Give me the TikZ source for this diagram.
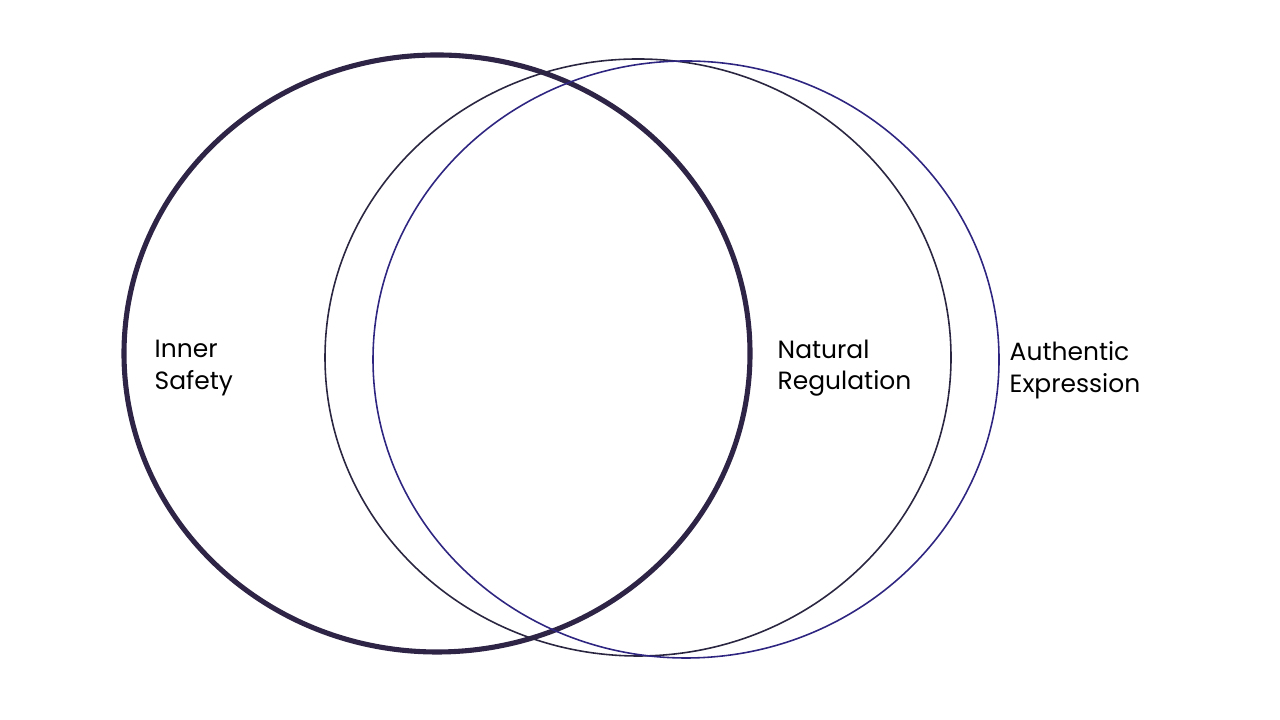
\documentclass[tikz,border=0pt]{standalone}
\usepackage{fontspec}
\setmainfont{Poppins}
\definecolor{safetyink}{HTML}{2E2445}
\definecolor{regink}{HTML}{2A2540}
\definecolor{exprink}{HTML}{2E2580}
\tikzset{
  ring/.style={line width=0.45pt},
  label/.style={anchor=west, align=left, font=\fontsize{7.1pt}{9pt}\selectfont, text=black, inner sep=0pt}
}
\begin{document}
\begin{tikzpicture}
  \useasboundingbox (0,0) rectangle (12.8,7.2);
  % circles
  \draw[line width=1.45pt, color=safetyink] (4.37,3.665) ellipse (3.13 and 2.985);
  \draw[ring, color=regink] (6.38,3.625) ellipse (3.13 and 2.985);
  \draw[ring, color=exprink] (6.86,3.605) ellipse (3.13 and 2.985);
  % labels
  \node[label] (safety) at (1.54,3.52) {Inner\\Safety};
  \node[label] (regulation) at (7.77,3.52) {Natural\\Regulation};
  \node[label] (expression) at (10.09,3.50) {Authentic\\Expression};
\end{tikzpicture}
\end{document}
